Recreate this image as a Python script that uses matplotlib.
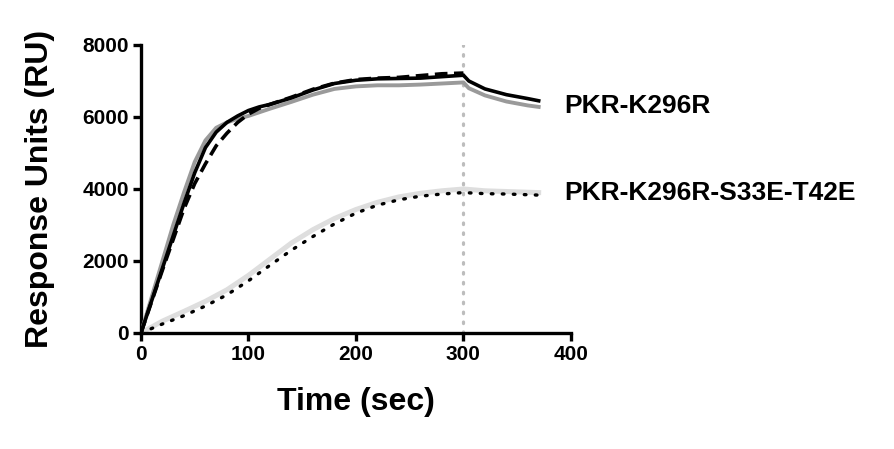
import matplotlib
matplotlib.use('Agg')
import matplotlib.pyplot as plt

plt.rcParams['font.family'] = ['Liberation Sans', 'DejaVu Sans']
plt.rcParams['font.weight'] = 'bold'

# 时间点 (sec)
t_assoc = [0, 10, 20, 30, 40, 50, 60, 70, 80, 90, 100, 110, 120, 140, 160, 180,
           200, 220, 240, 260, 280, 300, 305, 320, 340, 360, 370]
# PKR-K296R 两条曲线
k296r_black = [0, 900, 1800, 2700, 3600, 4450, 5150, 5580, 5850, 6030, 6180, 6280,
               6350, 6530, 6750, 6930, 7020, 7060, 7070, 7080, 7120, 7160,
               7000, 6780, 6620, 6510, 6450]
k296r_gray = [0, 1000, 2000, 3000, 3900, 4750, 5350, 5700, 5850, 5950, 6030, 6130,
              6230, 6420, 6620, 6780, 6850, 6880, 6880, 6900, 6930, 6960,
              6800, 6600, 6430, 6320, 6280]
t_dash = [0, 10, 20, 30, 40, 50, 60, 70, 80, 90, 100, 110, 120, 140, 160, 180,
          200, 220, 240, 260, 280, 300]
k296r_dash = [0, 880, 1750, 2600, 3450, 4150, 4700, 5200, 5550, 5850, 6080, 6240,
              6350, 6550, 6770, 6940, 7040, 7080, 7100, 7150, 7200, 7220]

# PKR-K296R-S33E-T42E
t_mut = [0, 20, 40, 60, 80, 100, 120, 140, 160, 180, 200, 220, 240, 260, 280,
         300, 320, 340, 370]
mut_light = [0, 330, 600, 880, 1200, 1600, 2050, 2500, 2870, 3180, 3430, 3630,
             3780, 3880, 3950, 4000, 3950, 3930, 3900]
mut_dot = [0, 250, 480, 750, 1060, 1450, 1880, 2300, 2680, 3030, 3330, 3550,
           3700, 3800, 3860, 3900, 3870, 3860, 3830]

inject_end = 300
labels = ['PKR-K296R', 'PKR-K296R-S33E-T42E']
label_y = [6300, 3900]

fig = plt.figure(figsize=(8.95, 4.49), dpi=100)
ax = fig.add_axes([0.1575, 0.2584, 0.4804, 0.6414])

ax.axvline(inject_end, ymin=0, ymax=1, color='#bdbdbd', lw=2.3,
           linestyle=(0, (0.5, 2.6)), dash_capstyle='round', zorder=1)

ax.plot(t_mut, mut_light, color='#dedede', lw=3.6, zorder=2)
ax.plot(t_mut, mut_dot, color='black', lw=2.4, linestyle=(0, (0.5, 2.8)),
        dash_capstyle='round', zorder=3)

ax.plot(t_assoc, k296r_gray, color='#9a9a9a', lw=2.8, zorder=4)
ax.plot(t_assoc, k296r_black, color='black', lw=2.6, zorder=5)
ax.plot(t_dash, k296r_dash, color='black', lw=2.6, linestyle=(0, (3.5, 1.8)),
        zorder=6)

for lab, y in zip(labels, label_y):
    ax.text(394, y, lab, fontsize=19, fontweight='bold', va='center', ha='left',
            clip_on=False)

ax.set_xlim(0, 400)
ax.set_ylim(0, 8000)
ax.set_xticks([0, 100, 200, 300, 400])
ax.set_yticks([0, 2000, 4000, 6000, 8000])
ax.spines['top'].set_visible(False)
ax.spines['right'].set_visible(False)
for s in ['left', 'bottom']:
    ax.spines[s].set_linewidth(2.4)
ax.tick_params(direction='out', length=5.5, width=2.4, labelsize=15, pad=3)
for lbl in ax.get_xticklabels() + ax.get_yticklabels():
    lbl.set_fontweight('bold')

ax.set_xlabel('Time (sec)', fontsize=23, fontweight='bold', labelpad=17)
ax.set_ylabel('Response Units (RU)', fontsize=23, fontweight='bold', labelpad=20)

fig.savefig('out.png', dpi=100)
